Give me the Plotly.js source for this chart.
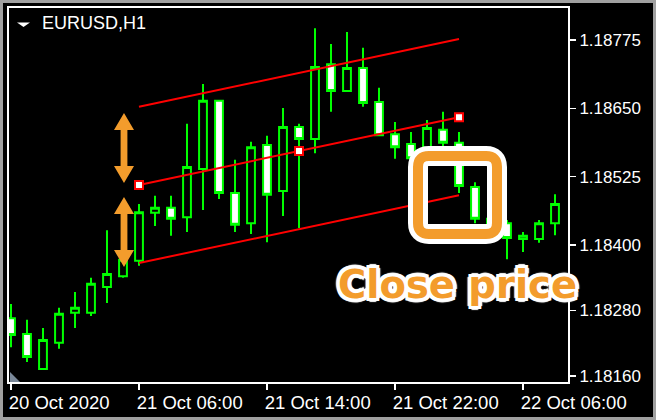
<!DOCTYPE html>
<html><head><meta charset="utf-8">
<script src="https://cdn.plot.ly/plotly-3.0.1.min.js"></script>
<style>
html,body{margin:0;padding:0;background:#000;}
#wrap{position:relative;width:656px;height:420px;overflow:hidden;}
#chart{width:656px;height:420px;}
#frame{position:absolute;left:0;top:0;width:650px;height:414px;border:3px solid #a0a0a0;pointer-events:none;}
</style></head><body>
<div id="wrap"><div id="chart"></div><div id="frame"></div></div>
<script>
// ---- data (EURUSD, H1) ----
const times = [
 "2020-10-20 22:00","2020-10-20 23:00","2020-10-21 00:00","2020-10-21 01:00","2020-10-21 02:00",
 "2020-10-21 03:00","2020-10-21 04:00","2020-10-21 05:00","2020-10-21 06:00","2020-10-21 07:00",
 "2020-10-21 08:00","2020-10-21 09:00","2020-10-21 10:00","2020-10-21 11:00","2020-10-21 12:00",
 "2020-10-21 13:00","2020-10-21 14:00","2020-10-21 15:00","2020-10-21 16:00","2020-10-21 17:00",
 "2020-10-21 18:00","2020-10-21 19:00","2020-10-21 20:00","2020-10-21 21:00","2020-10-21 22:00",
 "2020-10-21 23:00","2020-10-22 00:00","2020-10-22 01:00","2020-10-22 02:00","2020-10-22 03:00",
 "2020-10-22 04:00","2020-10-22 05:00","2020-10-22 06:00","2020-10-22 07:00","2020-10-22 08:00"
];
const openP  = [1.18266,1.18237,1.18173,1.18221,1.18276,1.18276,1.18323,1.18343,1.18371,1.18459,
                1.18468,1.18451,1.18539,1.18664,1.18495,1.18440,1.18583,1.18499,1.18616,1.18594,
                1.18731,1.18682,1.18724,1.18662,1.18603,1.18585,1.18574,1.18611,1.18587,1.18506,
                1.18448,1.18440,1.18411,1.18411,1.18440];
const highP  = [1.18292,1.18263,1.18248,1.18285,1.18314,1.18340,1.18427,1.18391,1.18475,1.18490,
                1.18490,1.18622,1.18695,1.18666,1.18556,1.18589,1.18600,1.18651,1.18622,1.18797,
                1.18768,1.18790,1.18761,1.18688,1.18625,1.18607,1.18629,1.18644,1.18607,1.18515,
                1.18455,1.18446,1.18424,1.18446,1.18493];
const lowP   = [1.18213,1.18186,1.18171,1.18210,1.18248,1.18270,1.18294,1.18340,1.18362,1.18435,
                1.18417,1.18424,1.18464,1.18484,1.18424,1.18420,1.18405,1.18453,1.18431,1.18568,
                1.18644,1.18682,1.18653,1.18601,1.18558,1.18537,1.18570,1.18578,1.18495,1.18440,
                1.18427,1.18374,1.18387,1.18404,1.18418];
const closeP = [1.18235,1.18195,1.18226,1.18274,1.18285,1.18329,1.18347,1.18373,1.18460,1.18468,
                1.18448,1.18543,1.18664,1.18495,1.18437,1.18579,1.18492,1.18616,1.18594,1.18726,
                1.18682,1.18724,1.18660,1.18601,1.18579,1.18559,1.18614,1.18587,1.18508,1.18448,
                1.18438,1.18413,1.18417,1.18440,1.18475];
// regression channel
const channelX     = ["2020-10-21 06:00","2020-10-21 16:00","2020-10-22 02:00"];
const channelMid   = [1.18510,1.18572,1.18634];
const channelUpper = [1.18653,1.18715,1.18777];
const channelLower = [1.18367,1.18429,1.18491];
// axis ticks
const yTickVals = [1.18160,1.18280,1.18400,1.18525,1.18650,1.18775];
const xTickVals = ["2020-10-20 22:00","2020-10-21 06:00","2020-10-21 14:00","2020-10-21 22:00","2020-10-22 06:00"];
const xTickText = ["20 Oct 2020","21 Oct 06:00","21 Oct 14:00","21 Oct 22:00","22 Oct 06:00"];
const symbolTitle = "EURUSD,H1";
const noteText = "Close price";

// ---- geometry helpers (pixel -> paper) ----
const W=656, H=420, PL=9, PR=568, PT=8, PB=382;
const px = p => (p-PL)/(PR-PL);
const py = p => (PB-p)/(PB-PT);
const pathOf = pts => 'M' + pts.map(q => px(q[0]).toFixed(5)+','+py(q[1]).toFixed(5)).join(' L') + ' Z';
function arrow(cx, yTop, yBot){
  const hw=10, sw=3.4, hh=17;
  return pathOf([[cx,yTop],[cx+hw,yTop+hh],[cx+sw,yTop+hh],[cx+sw,yBot-hh],[cx+hw,yBot-hh],[cx,yBot],
                 [cx-hw,yBot-hh],[cx-sw,yBot-hh],[cx-sw,yTop+hh],[cx-hw,yTop+hh]]);
}
function roundRect(x0,y0,x1,y1,r){
  const P=(a,b)=>px(a).toFixed(5)+','+py(b).toFixed(5);
  return 'M'+P(x0+r,y0)+' L'+P(x1-r,y0)+' Q'+P(x1,y0)+' '+P(x1,y0+r)+
         ' L'+P(x1,y1-r)+' Q'+P(x1,y1)+' '+P(x1-r,y1)+
         ' L'+P(x0+r,y1)+' Q'+P(x0,y1)+' '+P(x0,y1-r)+
         ' L'+P(x0,y0+r)+' Q'+P(x0,y0)+' '+P(x0+r,y0)+' Z';
}
const ORANGE = '#f39c2c';
const GREEN = '#00ff00';
const yTickFont = {family:'Liberation Sans, Arial, sans-serif', size:17, color:'#ffffff'};
const xTickFont = {family:'Liberation Sans, Arial, sans-serif', size:18.5, color:'#ffffff'};

const traces = [
  {type:'scatter', mode:'lines', x:channelX, y:channelUpper, line:{color:'#ff0000', width:2}, hoverinfo:'skip', showlegend:false},
  {type:'scatter', mode:'lines', x:channelX, y:channelMid,   line:{color:'#ff0000', width:2}, hoverinfo:'skip', showlegend:false},
  {type:'scatter', mode:'lines', x:channelX, y:channelLower, line:{color:'#ff0000', width:2}, hoverinfo:'skip', showlegend:false},
  {type:'candlestick', x:times, open:openP, high:highP, low:lowP, close:closeP,
   increasing:{line:{color:GREEN, width:2}, fillcolor:'#000000'},
   decreasing:{line:{color:GREEN, width:2}, fillcolor:'#ffffff'},
   whiskerwidth:0, hoverinfo:'skip', showlegend:false},
  {type:'scatter', mode:'markers', x:channelX, y:channelMid,
   marker:{symbol:'square', size:8, color:'#ffffff', line:{color:'#ff0000', width:2}}, hoverinfo:'skip', showlegend:false}
];

const layout = {
  width:W, height:H,
  margin:{l:PL, r:W-PR, t:PT, b:H-PB, pad:0},
  paper_bgcolor:'#000000', plot_bgcolor:'#000000',
  showlegend:false,
  xaxis:{type:'category', categoryorder:'array', categoryarray:times,
         range:[-0.125, 34.8125], rangeslider:{visible:false},
         showgrid:false, zeroline:false, showline:true, mirror:true, linecolor:'#ffffff', linewidth:2,
         ticks:'outside', ticklen:6, tickwidth:1.5, tickcolor:'#ffffff', tickangle:0,
         tickvals:xTickVals, ticktext:xTickText, ticklabelposition:'outside right',
         ticklabelshift:-4, ticklabelstandoff:3, tickfont:xTickFont, fixedrange:true},
  yaxis:{side:'right', range:[1.1814916, 1.1883393], showgrid:false, zeroline:false,
         showline:true, mirror:true, linecolor:'#ffffff', linewidth:2,
         ticks:'outside', ticklen:6, tickwidth:1.5, tickcolor:'#ffffff',
         tickvals:yTickVals, tickformat:'.5f', tickfont:yTickFont, fixedrange:true},
  shapes:[
    {type:'path', xref:'paper', yref:'paper', path:pathOf([[17,22.5],[30,22.5],[23.5,27]]), fillcolor:'#ffffff', line:{width:0}},
    {type:'path', xref:'paper', yref:'paper', path:pathOf([[10,372],[10,382],[20,382]]), fillcolor:'#7a8899', line:{width:0}},
    {type:'path', xref:'paper', yref:'paper', path:arrow(124,113,183), fillcolor:ORANGE, line:{width:0}},
    {type:'path', xref:'paper', yref:'paper', path:arrow(124,197,267), fillcolor:ORANGE, line:{width:0}},
    {type:'path', xref:'paper', yref:'paper', path:roundRect(418,156,497,234,11), line:{color:'#ffffff', width:20}},
    {type:'path', xref:'paper', yref:'paper', path:roundRect(418,156,497,234,11), line:{color:ORANGE, width:10}}
  ],
  annotations:[
    {xref:'paper', yref:'paper', x:px(40), y:py(22.5), xanchor:'left', yanchor:'middle', showarrow:false,
     text:symbolTitle, font:{family:'Liberation Sans, Arial, sans-serif', size:18, color:'#ffffff'}},
    {xref:'paper', yref:'paper', x:px(457.5), y:py(284), xanchor:'center', yanchor:'middle', showarrow:false,
     text:'<b>'+noteText+'</b>',
     font:{family:'DejaVu Sans, sans-serif', size:38.5, color:ORANGE,
           shadow:'3px 0 0 #fff, -3px 0 0 #fff, 0 3px 0 #fff, 0 -3px 0 #fff, 3px 3px 0 #fff, -3px 3px 0 #fff, 3px -3px 0 #fff, -3px -3px 0 #fff, 4px 0 1px #fff, -4px 0 1px #fff, 0 4px 1px #fff, 0 -4px 1px #fff, 2px 2px 1px #fff, -2px -2px 1px #fff'}}
  ]
};
Plotly.newPlot('chart', traces, layout, {displayModeBar:false, staticPlot:true});
</script>
</body></html>
